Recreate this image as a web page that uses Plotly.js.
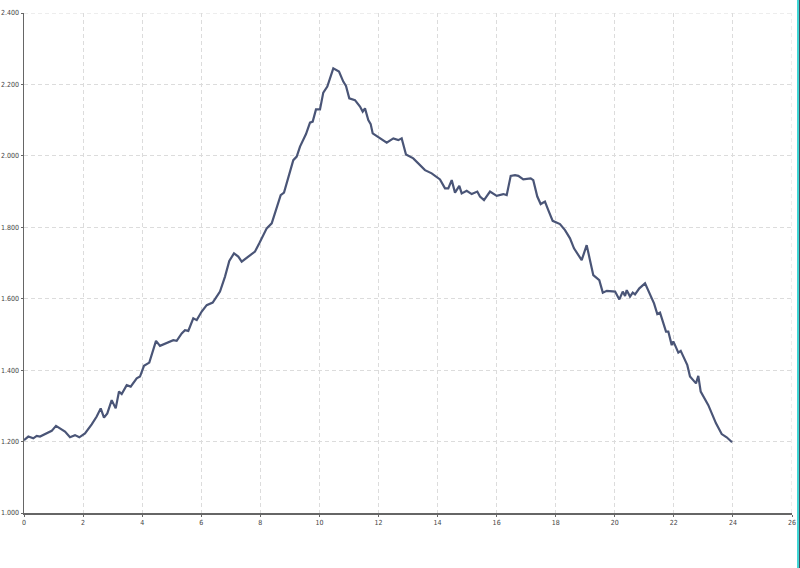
<!DOCTYPE html>
<html>
<head>
<meta charset="utf-8">
<script src="https://cdn.plot.ly/plotly-3.0.1.min.js"></script>
<style>
html,body{margin:0;padding:0;background:#fff;overflow:hidden;}
#chart{width:800px;height:568px;}
#edge1{position:absolute;left:797px;top:0;width:2px;height:568px;background:#3fd6d6;}
#edge2{position:absolute;left:799px;top:0;width:1px;height:568px;background:#4a4a5a;}
</style>
</head>
<body>
<div id="chart"></div>
<div id="edge1"></div>
<div id="edge2"></div>
<script>
const hours = [0,0.146,0.315,0.430,0.542,0.711,0.938,1.083,1.219,1.388,1.557,1.727,1.872,2.065,2.292,2.461,2.597,2.708,2.820,2.969,3.104,3.216,3.308,3.477,3.612,3.815,3.927,4.062,4.242,4.469,4.604,4.831,5.054,5.169,5.339,5.450,5.562,5.731,5.847,6.016,6.185,6.388,6.635,6.805,6.950,7.109,7.255,7.370,7.651,7.820,7.966,8.216,8.386,8.555,8.690,8.802,8.948,9.117,9.232,9.344,9.547,9.682,9.774,9.885,10.021,10.132,10.268,10.471,10.664,10.809,10.901,11.012,11.205,11.375,11.466,11.544,11.656,11.737,11.805,12.052,12.279,12.503,12.672,12.786,12.932,13.179,13.575,13.802,14.083,14.253,14.364,14.480,14.591,14.737,14.818,14.987,15.157,15.346,15.437,15.573,15.776,16.003,16.226,16.341,16.477,16.622,16.734,16.903,17.153,17.241,17.377,17.492,17.637,17.749,17.898,18.145,18.315,18.484,18.619,18.880,19.049,19.161,19.273,19.476,19.595,19.730,20.011,20.155,20.270,20.348,20.405,20.517,20.608,20.686,20.832,21.025,21.217,21.329,21.441,21.532,21.735,21.813,21.928,21.982,22.040,22.151,22.233,22.456,22.547,22.750,22.828,22.909,23.167,23.427,23.620,23.789,23.970];
const values = [1.204,1.214,1.209,1.216,1.214,1.220,1.230,1.244,1.237,1.228,1.212,1.218,1.212,1.223,1.248,1.270,1.293,1.267,1.279,1.316,1.293,1.340,1.333,1.358,1.354,1.377,1.382,1.412,1.421,1.482,1.468,1.475,1.484,1.482,1.503,1.512,1.510,1.545,1.540,1.564,1.582,1.589,1.620,1.662,1.706,1.727,1.718,1.704,1.722,1.732,1.755,1.797,1.811,1.853,1.890,1.897,1.942,1.988,1.998,2.026,2.061,2.093,2.096,2.130,2.130,2.177,2.194,2.245,2.236,2.208,2.196,2.161,2.156,2.138,2.124,2.133,2.100,2.089,2.063,2.049,2.037,2.049,2.044,2.049,2.004,1.993,1.960,1.951,1.934,1.909,1.909,1.932,1.897,1.916,1.895,1.902,1.893,1.900,1.886,1.876,1.900,1.888,1.893,1.890,1.944,1.946,1.944,1.934,1.937,1.932,1.886,1.865,1.872,1.848,1.818,1.809,1.792,1.769,1.741,1.708,1.750,1.708,1.666,1.652,1.617,1.622,1.620,1.598,1.620,1.608,1.624,1.606,1.617,1.612,1.629,1.643,1.606,1.587,1.557,1.561,1.508,1.508,1.470,1.480,1.470,1.449,1.454,1.414,1.382,1.363,1.384,1.340,1.302,1.251,1.221,1.212,1.198];
const xTicks = [0,2,4,6,8,10,12,14,16,18,20,22,24,26];
const yTicks = [1.0,1.2,1.4,1.6,1.8,2.0,2.2,2.4];
const yTickText = ["1.000","1.200","1.400","1.600","1.800","2.000","2.200","2.400"];

const trace = {
  x: hours, y: values, type: 'scatter', mode: 'lines',
  line: {color: '#4a5577', width: 2.2, shape: 'linear'},
  hoverinfo: 'skip'
};
const axisCommon = {
  showgrid: true, gridcolor: '#dcdcdc', griddash: '4px,3px', gridwidth: 1,
  showline: true, linecolor: '#666', linewidth: 1.5,
  ticks: 'outside', ticklen: 2, tickcolor: '#666', zeroline: false,
  tickfont: {family: 'Liberation Sans Narrow, DejaVu Sans Condensed, Arial Narrow, sans-serif', size: 7, color: '#444'}
};
const layout = {
  width: 800, height: 568,
  margin: {l: 24, r: 8, t: 13, b: 55, pad: 0},
  paper_bgcolor: '#fff', plot_bgcolor: '#fff',
  showlegend: false,
  font: {family: 'Liberation Sans Narrow, sans-serif', size: 7, color: '#444'},
  xaxis: Object.assign({range: [0, 26], tickvals: xTicks, ticktext: xTicks.map(String)}, axisCommon),
  yaxis: Object.assign({range: [1.0, 2.4], tickvals: yTicks, ticktext: yTickText}, axisCommon),
  shapes: [
    {type: 'line', xref: 'paper', yref: 'y', x0: 0, x1: 1, y0: 2.4, y1: 2.4, line: {color: '#dcdcdc', width: 1, dash: '4px,3px'}, layer: 'below'},
    {type: 'line', xref: 'x', yref: 'paper', x0: 26, x1: 26, y0: 0, y1: 1, line: {color: '#dcdcdc', width: 1, dash: '4px,3px'}, layer: 'below'}
  ]
};
Plotly.newPlot('chart', [trace], layout, {displayModeBar: false, staticPlot: true});
</script>
</body>
</html>
